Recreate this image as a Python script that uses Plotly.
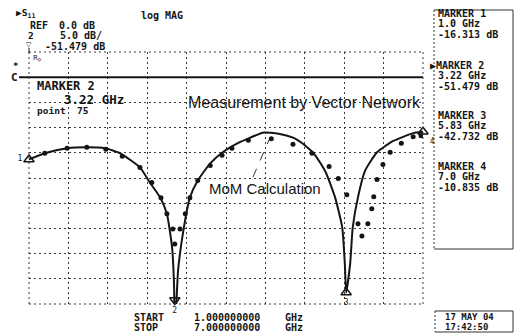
import plotly.graph_objects as go

# ---------------- data ----------------
meas_freq = [1.00, 1.24, 1.58, 1.88, 2.16, 2.39, 2.69, 2.84, 3.00, 3.10, 3.18, 3.21, 3.22,
             3.27, 3.35, 3.45, 3.57, 3.76, 3.95, 4.21, 4.37, 4.56, 4.80, 5.02, 5.20, 5.36,
             5.52, 5.66, 5.77, 5.81, 5.83, 5.89, 5.93, 6.01, 6.12, 6.30, 6.54, 6.85, 7.00]
meas_db = [-16.31, -15.1, -14.1, -13.9, -14.1, -15.1, -17.9, -20.9, -23.9, -27.1, -33.9, -41.8, -51.48,
           -38.4, -30.5, -23.9, -20.5, -17.1, -14.9, -12.9, -12.0, -11.0, -11.2, -12.0, -13.5, -15.5,
           -18.9, -23.8, -29.8, -37.1, -42.73, -37.1, -29.8, -23.8, -18.5, -14.9, -12.7, -11.1, -10.84]

mom_freq = [1.24, 1.58, 1.88, 2.17, 2.42, 2.69, 2.87, 3.01, 3.10, 3.19, 3.22, 3.30, 3.38, 3.45,
            3.57, 3.76, 3.94, 4.09, 4.34, 4.69, 5.02, 5.31, 5.57, 5.71, 5.84, 6.01, 6.07, 6.16,
            6.22, 6.25, 6.30, 6.39, 6.50, 6.67, 6.85, 6.97]
mom_db = [-15.1, -14.1, -13.9, -14.3, -15.7, -17.9, -20.9, -23.9, -27.1, -30.1, -33.1, -30.1, -27.1, -23.9,
          -20.5, -17.5, -15.5, -14.1, -12.5, -12.2, -13.3, -15.1, -17.7, -20.1, -23.3, -29.1, -31.5, -29.1,
          -26.1, -23.7, -20.3, -17.3, -14.9, -13.1, -11.8, -11.6]

marker_num = ["1", "2", "3", "4"]
marker_freq = [1.0, 3.22, 5.83, 7.0]
marker_db = [-16.313, -51.479, -42.732, -10.835]
marker_text = ["1.0 GHz", "3.22 GHz", "5.83 GHz", "7.0 GHz"]

start_ghz, stop_ghz = 1.0, 7.0
ref_db, scale_db = 0.0, 5.0

# ---------------- layout geometry ----------------
W, H = 515, 333
L, R, T, B = 29, 423, 52, 304
Y_MIN, Y_MAX = ref_db - 9 * scale_db, ref_db + 1 * scale_db

def px(x):
    return (x - L) / (R - L)

def py(y):
    return (B - y) / (B - T)

MONO = "DejaVu Sans Mono"
SANS = "Liberation Sans, Arial"
INK = "#151515"
GRID = "#3a3a3a"

fig = go.Figure()

fig.add_trace(go.Scatter(x=meas_freq, y=meas_db, mode="lines",
                         line=dict(color=INK, width=2, shape="spline", smoothing=0.5),
                         name="Measurement", hoverinfo="skip"))
fig.add_trace(go.Scatter(x=mom_freq, y=mom_db, mode="markers",
                         marker=dict(color=INK, size=5),
                         name="MoM", hoverinfo="skip"))

# analyzer markers (clamped to the display bottom like the instrument does)
mk_y = [max(v, Y_MIN + 0.8) for v in marker_db]
fig.add_trace(go.Scatter(
    x=marker_freq, y=mk_y, mode="markers+text",
    text=marker_num, textposition=["middle left", "bottom center", "bottom center", "bottom right"],
    textfont=dict(family=MONO, size=8, color=INK),
    marker=dict(symbol=["triangle-up-open", "triangle-down-open", "triangle-up-open", "triangle-up-open"],
                size=9, color=INK, line=dict(width=1.5, color=INK)),
    cliponaxis=False, hoverinfo="skip"))

fig.update_xaxes(range=[start_ghz, stop_ghz], tick0=start_ghz, dtick=(stop_ghz - start_ghz) / 10,
                 showgrid=True, gridcolor=GRID, gridwidth=1, griddash="2px,3px",
                 showticklabels=False, ticks="", zeroline=False, showline=False, layer="below traces")
fig.update_yaxes(range=[Y_MIN, Y_MAX], tick0=ref_db, dtick=scale_db,
                 showgrid=True, gridcolor=GRID, gridwidth=1, griddash="2px,3px",
                 showticklabels=False, ticks="", zeroline=False, showline=False, layer="below traces")

shapes = []
# reference line
shapes.append(dict(type="line", xref="paper", yref="y", x0=px(19), x1=1, y0=ref_db, y1=ref_db,
                   line=dict(color=INK, width=2)))
# plot frame (dotted like the grid)
for (x0, y0, x1, y1) in [(L, T, L, B), (R, T, R, B), (L, B, R, B), (L, T, R, T)]:
    shapes.append(dict(type="line", xref="paper", yref="paper", x0=px(x0), x1=px(x1), y0=py(y0), y1=py(y1),
                       line=dict(color=GRID, width=1, dash="2px,3px")))
# marker panel box
shapes.append(dict(type="line", xref="paper", yref="paper", x0=px(434), x1=px(434), y0=py(10), y1=py(249),
                   line=dict(color="#333", width=1, dash="2px,2px")))
for (x0, y0, x1, y1) in [(434, 10, 513, 10), (513, 10, 513, 249), (434, 249, 513, 249)]:
    shapes.append(dict(type="line", xref="paper", yref="paper", x0=px(x0), x1=px(x1), y0=py(y0), y1=py(y1),
                       line=dict(color="#333", width=1)))
# date box
for (x0, y0, x1, y1, d) in [(435, 311, 513, 311, "solid"), (513, 311, 513, 332, "solid"),
                            (435, 332, 513, 332, "solid"), (435, 311, 435, 332, "2px,2px")]:
    shapes.append(dict(type="line", xref="paper", yref="paper", x0=px(x0), x1=px(x1), y0=py(y0), y1=py(y1),
                       line=dict(color="#333", width=1, dash=d)))
# active marker stem at top-left
shapes.append(dict(type="line", xref="paper", yref="paper", x0=px(29), x1=px(29), y0=py(48), y1=py(53),
                   line=dict(color=INK, width=1)))
# MoM leader line
shapes.append(dict(type="line", xref="paper", yref="paper", x0=px(253), x1=px(269), y0=py(177), y1=py(140),
                   line=dict(color="#333", width=1, dash="dash")))
fig.update_layout(shapes=shapes)


def txt(s, x, y, size=10, family=MONO, bold=True, xanchor="left"):
    fig.add_annotation(text=(f"<b>{s}</b>" if bold else s), x=px(x), y=py(y), xref="paper", yref="paper",
                       xanchor=xanchor, yanchor="middle", showarrow=False,
                       font=dict(family=family, size=size, color=INK))


# header
txt("▶S<sub>11</sub>", 14, 13, 9.5)
txt("log MAG", 139, 15, 10)
txt("REF", 28, 26, 10)
txt(f"{ref_db:.1f} dB", 57, 26, 10)
txt(marker_num[1], 26, 35.5, 9.5)
txt(f"{scale_db:.1f} dB/", 58, 35.5, 10)
txt("▽", 24, 45, 7, family="DejaVu Sans")
txt(f"{marker_db[1]:.3f} dB", 43, 46, 10)
txt("R<sub>p</sub>", 31, 58, 7, bold=False, family="DejaVu Sans")
txt("*", 11, 66, 9)
txt("C", 9, 77, 11)

# active marker read-out in grid
txt(f"MARKER {marker_num[1]}", 35, 86, 12)
txt(marker_text[1], 62, 99, 12.5)
txt("point  75", 35, 110, 9.5)

# annotations
txt("Measurement by Vector Network", 186, 103, 16, family=SANS, bold=False)
txt("MoM Calculation", 207, 188, 15, family=SANS, bold=False)

# marker panel
panel_y = [13, 65, 115, 166]
for i in range(4):
    y0 = panel_y[i]
    prefix = "▶" if i == 1 else ""
    txt(f"{prefix}MARKER {marker_num[i]}", 436 if i != 1 else 428, y0, 10)
    txt(marker_text[i], 436, y0 + 10.5, 10)
    txt(f"{marker_db[i]:.3f} dB", 436, y0 + 21, 10)

# start / stop
for lab, val, yy in [("START", start_ghz, 317), ("STOP", stop_ghz, 327.5)]:
    txt(lab, 132, yy, 10)
    txt(f"{val:.9f}", 192, yy, 10)
    txt("GHz", 283, yy, 10)

# date
txt("17 MAY 04", 443, 316.5, 9)
txt("17:42:50", 443, 327, 9)

fig.update_layout(width=W, height=H, margin=dict(l=L, r=W - R, t=T, b=H - B),
                  paper_bgcolor="white", plot_bgcolor="white", showlegend=False)

fig.write_html("out.html")
